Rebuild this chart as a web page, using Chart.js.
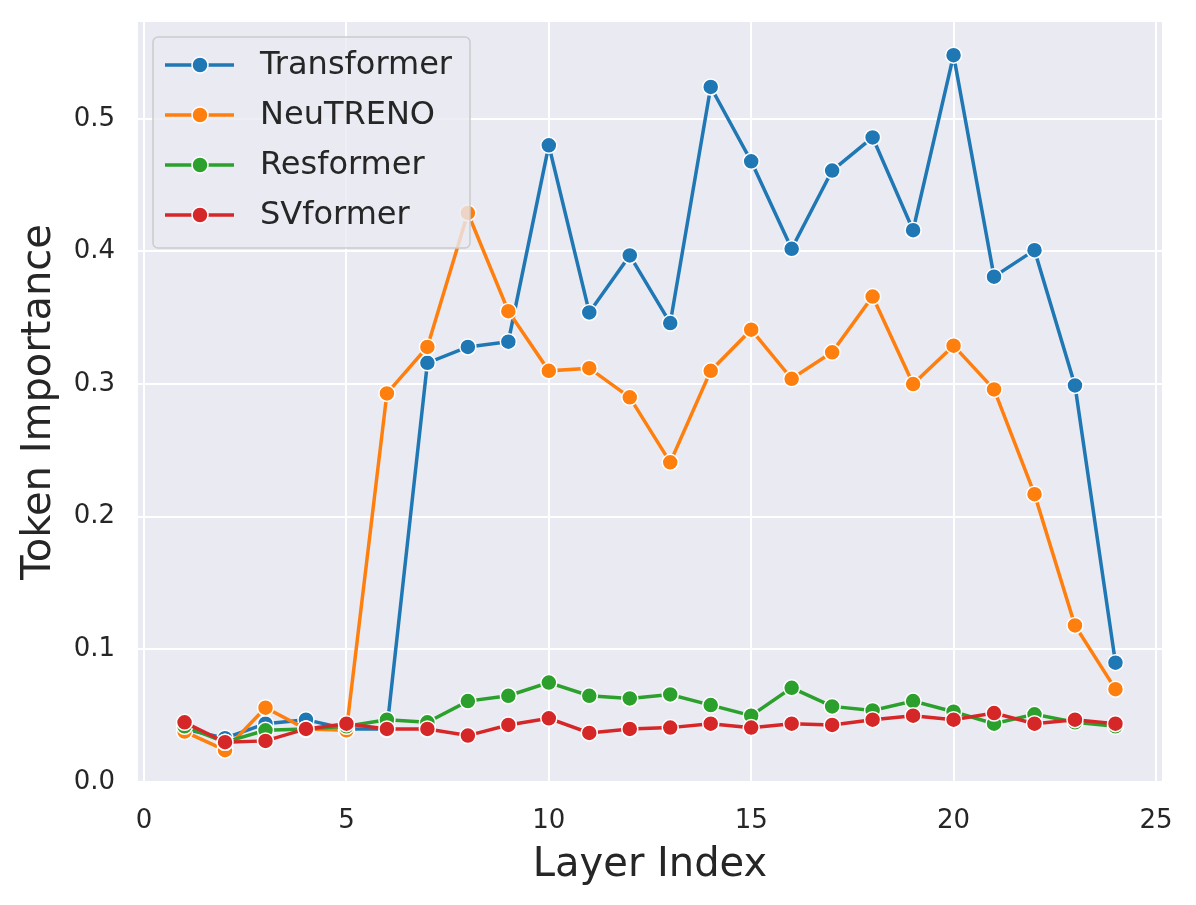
<!DOCTYPE html>
<html>
<head>
<meta charset="utf-8">
<script src="https://cdn.jsdelivr.net/npm/chart.js@4.4.1/dist/chart.umd.min.js"></script>
<style>
  html, body { margin: 0; padding: 0; background: #ffffff; }
  #wrap { width: 1196px; height: 905px; }
</style>
</head>
<body>
<div id="wrap"><canvas id="chart" width="1196" height="905"></canvas></div>
<script>
// Données
const layers = [1, 2, 3, 4, 5, 6, 7, 8, 9, 10, 11, 12, 13, 14, 15, 16, 17, 18, 19, 20, 21, 22, 23, 24];
const transformer = [0.040, 0.033, 0.044, 0.047, 0.040, 0.040, 0.316, 0.328, 0.332, 0.480, 0.354, 0.397, 0.346, 0.524, 0.468, 0.402, 0.461, 0.486, 0.416, 0.548, 0.381, 0.401, 0.299, 0.090];
const neutreno = [0.038, 0.024, 0.056, 0.040, 0.039, 0.293, 0.328, 0.429, 0.355, 0.310, 0.312, 0.290, 0.241, 0.310, 0.341, 0.304, 0.324, 0.366, 0.300, 0.329, 0.296, 0.217, 0.118, 0.070];
const resformer = [0.042, 0.030, 0.039, 0.040, 0.042, 0.047, 0.045, 0.061, 0.065, 0.075, 0.065, 0.063, 0.066, 0.058, 0.050, 0.071, 0.057, 0.054, 0.061, 0.053, 0.044, 0.051, 0.045, 0.042];
const svformer = [0.045, 0.030, 0.031, 0.040, 0.044, 0.040, 0.040, 0.035, 0.043, 0.048, 0.037, 0.040, 0.041, 0.044, 0.041, 0.044, 0.043, 0.047, 0.050, 0.047, 0.052, 0.044, 0.047, 0.044];
const seriesNames = ['Transformer', 'NeuTRENO', 'Resformer', 'SVformer'];
const xTicks = [0, 5, 10, 15, 20, 25];
const yTicks = [0.0, 0.1, 0.2, 0.3, 0.4, 0.5];

const colors = ['#1f77b4', '#ff7f0e', '#2ca02c', '#d62728'];
const textColor = '#262626';
const fontFamily = '"DejaVu Sans", sans-serif';

function makeDataset(name, values, i) {
    return {
        label: name,
        data: layers.map((x, k) => ({ x: x, y: values[k] })),
        borderColor: colors[i],
        backgroundColor: colors[i],
        borderWidth: 3.5,
        pointRadius: 8,
        pointHoverRadius: 8,
        pointBackgroundColor: colors[i],
        pointBorderColor: '#ffffff',
        pointBorderWidth: 1.5,
        tension: 0,
        order: 4 - i   // SVformer dessiné au-dessus
    };
}

// Fond de la zone de tracé (style seaborn darkgrid)
const plotBackground = {
    id: 'plotBackground',
    beforeDraw(chart) {
        const { ctx, chartArea } = chart;
        ctx.save();
        ctx.fillStyle = '#eaeaf2';
        ctx.fillRect(chartArea.left, chartArea.top, chartArea.right - chartArea.left, chartArea.bottom - chartArea.top);
        ctx.restore();
    }
};

// Légende dessinée à l'intérieur du graphique, en haut à gauche
const insideLegend = {
    id: 'insideLegend',
    afterDraw(chart) {
        const ctx = chart.ctx;
        const box = { x: 153, y: 37, w: 317, h: 211 };
        ctx.save();
        ctx.beginPath();
        ctx.roundRect(box.x, box.y, box.w, box.h, 5);
        ctx.fillStyle = 'rgba(234, 234, 242, 0.8)';
        ctx.fill();
        ctx.lineWidth = 1.5;
        ctx.strokeStyle = '#cccccc';
        ctx.stroke();

        ctx.font = '32px ' + fontFamily;
        ctx.textBaseline = 'middle';
        ctx.textAlign = 'left';
        chart.data.datasets.forEach((ds, i) => {
            const cy = 65 + i * 50;
            ctx.beginPath();
            ctx.moveTo(165, cy);
            ctx.lineTo(234, cy);
            ctx.lineWidth = 3.5;
            ctx.strokeStyle = ds.borderColor;
            ctx.stroke();
            ctx.beginPath();
            ctx.arc(200, cy, 8, 0, Math.PI * 2);
            ctx.fillStyle = ds.borderColor;
            ctx.fill();
            ctx.lineWidth = 1.5;
            ctx.strokeStyle = '#ffffff';
            ctx.stroke();
            ctx.fillStyle = textColor;
            ctx.fillText(ds.label, 260, cy + 1);
        });
        ctx.restore();
    }
};

const ctx = document.getElementById('chart').getContext('2d');
const chart = new Chart(ctx, {
    type: 'line',
    data: {
        datasets: [
            makeDataset(seriesNames[0], transformer, 0),
            makeDataset(seriesNames[1], neutreno, 1),
            makeDataset(seriesNames[2], resformer, 2),
            makeDataset(seriesNames[3], svformer, 3)
        ]
    },
    options: {
        responsive: false,
        animation: false,
        devicePixelRatio: 1,
        layout: { padding: { top: 22, right: 34, left: 0, bottom: 0 } },
        plugins: {
            legend: { display: false },
            tooltip: { enabled: false }
        },
        scales: {
            x: {
                type: 'linear',
                min: -0.15,
                max: 25.15,
                afterBuildTicks: scale => { scale.ticks = xTicks.map(v => ({ value: v })); },
                afterFit: scale => {
                    scale.height = 123;
                    scale.paddingLeft = 0;
                    scale.paddingRight = 0;
                },
                grid: { color: '#ffffff', lineWidth: 2, drawTicks: false },
                border: { display: false },
                ticks: {
                    color: textColor,
                    font: { family: fontFamily, size: 26 },
                    padding: 24,
                    maxRotation: 0
                },
                title: {
                    display: true,
                    text: 'Layer Index',
                    color: textColor,
                    font: { family: fontFamily, size: 40 },
                    padding: { top: 0, bottom: 15 }
                }
            },
            y: {
                type: 'linear',
                min: 0,
                max: 0.573,
                afterBuildTicks: scale => { scale.ticks = yTicks.map(v => ({ value: v })); },
                afterFit: scale => {
                    scale.width = 138;
                    scale.paddingTop = 0;
                    scale.paddingBottom = 0;
                },
                grid: { color: '#ffffff', lineWidth: 2, drawTicks: false },
                border: { display: false },
                ticks: {
                    color: textColor,
                    font: { family: fontFamily, size: 26 },
                    padding: 23,
                    callback: v => v.toFixed(1)
                },
                title: {
                    display: true,
                    text: 'Token Importance',
                    color: textColor,
                    font: { family: fontFamily, size: 40 },
                    padding: { top: 16, bottom: 0 }
                }
            }
        }
    },
    plugins: [plotBackground, insideLegend]
});
</script>
</body>
</html>
